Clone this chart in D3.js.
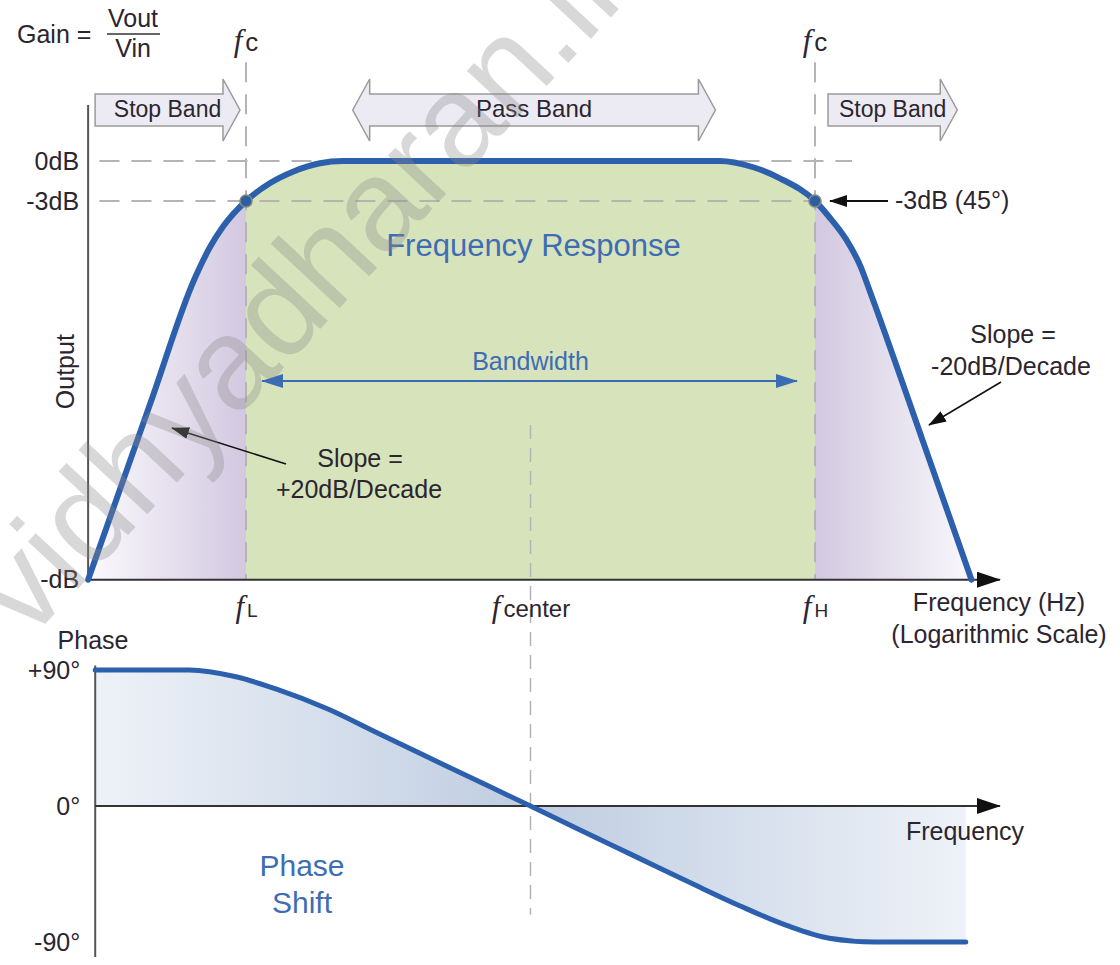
<!DOCTYPE html>
<html>
    <head>
        <title>Band Pass Filter Response</title>
        <meta charset="utf-8">
        <style>
            html, body {
                margin: 0px;
                padding: 0px;
                background-color: #ffffff;
            }

            #main svg {
                display: block;
                font-family: "Liberation Sans", Arial, sans-serif;
            }

            .lbl {
                fill: #2b2530;
                font-size: 25px;
            }

            .blue {
                fill: #3e6db4;
            }

            .fsym {
                font-family: "Liberation Serif", serif;
                font-style: italic;
                font-size: 31px;
            }

            .axis text {
                fill: #2b2530;
                font-size: 25px;
                font-family: "Liberation Sans", Arial, sans-serif;
            }

            .axis .domain {
                stroke: none;
            }

            .guide {
                fill: none;
                stroke: #b4b4b4;
                stroke-width: 2;
                stroke-dasharray: 20, 12;
            }
        </style>
        <script src="https://cdn.jsdelivr.net/npm/d3@7"></script>
    </head>
    <body>
        <div id="main">
        </div>

        <script>
            // frequency axis is in decades, fL = 1 and fH = 5
            var bandLow = 1;
            var bandCenter = 3;
            var bandHigh = 5;
            var freqStart = -0.11;
            var freqEnd = 6.3;

            var magFreq = [-0.11, 0.33, 0.64, 0.75, 0.84, 1.0, 1.17, 1.33, 1.52, 1.68,
                           4.33, 4.56, 4.75, 5.0, 5.1, 5.22, 5.32, 5.39, 5.75, 6.1];
            var magDb   = [-31.4, -18.1, -8.8, -6.4, -4.9, -3.0, -1.65, -0.8, -0.17, 0,
                           0, -0.45, -1.28, -3.0, -4.2, -5.9, -7.9, -9.9, -20.75, -31.4];
            var magFloor = -31.4;
            var magTop = 4.2;

            var phaseStart = -0.06;
            var phaseFreq = [-0.06, 0.6, 0.93, 1.21, 1.58, 1.91, 2.32, 2.72, 3.0,
                             3.33, 3.74, 4.15, 4.47, 4.8, 5.1, 5.42, 6.06];
            var phaseDeg  = [90, 90, 85.5, 77.5, 64, 49, 30.5, 12.5, 0,
                             -15, -33.5, -52, -66, -79, -87.5, -90, -90];

            var magTicks = [0, -3, magFloor];
            var magTickLabels = ["0dB", "-3dB", "-dB"];
            var phaseTicks = [90, 0, -90];
            var phaseTickLabels = ["+90\u00b0", "0\u00b0", "-90\u00b0"];
            var freqMarks = [bandLow, bandCenter, bandHigh];
            var freqMarkSubs = ["L", "center", "H"];

            var width = 1120;
            var height = 965;

            var x = d3.scaleLinear().domain([bandLow, bandHigh]).range([246, 815]);
            var yMag = d3.scaleLinear().domain([0, -3]).range([161, 201]);
            var yPh = d3.scaleLinear().domain([90, -90]).range([670, 942]);

            function addMarker(defs, id, color, w, h) {
                defs.append("marker")
                    .attr("id", id)
                    .attr("viewBox", "0 0 " + w + " " + h)
                    .attr("markerUnits", "userSpaceOnUse")
                    .attr("markerWidth", w)
                    .attr("markerHeight", h)
                    .attr("refX", w - 1)
                    .attr("refY", h / 2)
                    .attr("orient", "auto-start-reverse")
                  .append("path")
                    .attr("d", "M0,0L" + w + "," + (h / 2) + "L0," + h + "Z")
                    .attr("fill", color);
            }

            function addGradient(defs, id, x1, x2, stops) {
                var g = defs.append("linearGradient")
                    .attr("id", id)
                    .attr("gradientUnits", "userSpaceOnUse")
                    .attr("x1", x1).attr("x2", x2)
                    .attr("y1", 0).attr("y2", 0);
                stops.forEach(function(s) {
                    g.append("stop").attr("offset", s[0]).attr("stop-color", s[1]);
                });
            }

            function fLabel(text, sub, subSize) {
                text.append("tspan").attr("class", "fsym").text("f");
                text.append("tspan").attr("dx", 3).style("font-size", subSize + "px").text(sub);
            }

            // block arrow used for the stop band / pass band markers
            function bandArrow(x0, x1, both) {
                var top = 94, bot = 126, htop = 79, hbot = 141, mid = 110, head = 17;
                var p = d3.path();
                if(both) {
                    p.moveTo(x0, mid);
                    p.lineTo(x0 + head, htop);
                    p.lineTo(x0 + head, top);
                } else {
                    p.moveTo(x0, top);
                }
                p.lineTo(x1 - head, top);
                p.lineTo(x1 - head, htop);
                p.lineTo(x1, mid);
                p.lineTo(x1 - head, hbot);
                p.lineTo(x1 - head, bot);
                if(both) {
                    p.lineTo(x0 + head, bot);
                    p.lineTo(x0 + head, hbot);
                } else {
                    p.lineTo(x0, bot);
                }
                p.closePath();
                return p.toString();
            }

            function main() {
                var svg = d3.select("#main")
                            .append("svg")
                            .attr("width", width)
                            .attr("height", height);
                var defs = svg.append("defs");

                addMarker(defs, "axisHead", "#111", 24, 16);
                addMarker(defs, "blueHead", "#3a6cb4", 22, 14);
                addMarker(defs, "blackHead", "#111", 18, 12);

                var mx0 = x(freqStart), mx1 = x(magFreq[magFreq.length - 1]);
                function off(v) { return (x(v) - mx0) / (mx1 - mx0); }
                addGradient(defs, "magFill", mx0, mx1, [
                    [0, "#fbfafd"], [off(bandLow), "#d2c8e0"], [off(bandLow), "#d7e3bb"],
                    [off(bandHigh), "#d7e3bb"], [off(bandHigh), "#d2c8e0"], [1, "#f9f8fc"]
                ]);
                addGradient(defs, "phaseFill", x(phaseStart), x(phaseFreq[phaseFreq.length - 1]), [
                    [0, "#eef2f8"], [0.5, "#bfcde1"], [1, "#eef2f8"]
                ]);

                var magData = magFreq.map(function(f, i) { return {f: f, v: magDb[i]}; });
                var phaseData = phaseFreq.map(function(f, i) { return {f: f, v: phaseDeg[i]}; });

                // ---- magnitude plot ----
                svg.append("path")
                    .datum(magData)
                    .attr("fill", "url(#magFill)")
                    .attr("d", d3.area()
                        .curve(d3.curveMonotoneX)
                        .x(function(d) { return x(d.f); })
                        .y0(yMag(magFloor))
                        .y1(function(d) { return yMag(d.v); }));

                svg.append("line").attr("class", "guide")
                    .attr("x1", x(freqStart + 0.08)).attr("x2", x(5.26))
                    .attr("y1", yMag(0)).attr("y2", yMag(0));
                svg.append("line").attr("class", "guide")
                    .attr("x1", x(freqStart + 0.08)).attr("x2", x(bandHigh))
                    .attr("y1", yMag(-3)).attr("y2", yMag(-3));
                [bandLow, bandHigh].forEach(function(f) {
                    svg.append("line").attr("class", "guide")
                        .attr("x1", x(f)).attr("x2", x(f))
                        .attr("y1", yMag(7.4)).attr("y2", yMag(magFloor));
                });
                svg.append("line").attr("class", "guide")
                    .style("stroke-dasharray", "14, 9")
                    .style("stroke-width", 1.5)
                    .attr("x1", x(bandCenter)).attr("x2", x(bandCenter))
                    .attr("y1", yMag(-19.8)).attr("y2", yPh(-72));

                // axes
                svg.append("line")
                    .attr("x1", x(freqStart)).attr("x2", x(freqStart))
                    .attr("y1", yMag(magTop)).attr("y2", yMag(magFloor))
                    .attr("stroke", "#555").attr("stroke-width", 2);
                svg.append("line")
                    .attr("x1", x(freqStart)).attr("x2", x(freqEnd))
                    .attr("y1", yMag(magFloor)).attr("y2", yMag(magFloor))
                    .attr("stroke", "#333").attr("stroke-width", 2)
                    .attr("marker-end", "url(#axisHead)");

                svg.append("g")
                    .attr("class", "axis")
                    .attr("transform", "translate(" + x(freqStart) + ",0)")
                    .call(d3.axisLeft(yMag)
                        .tickValues(magTicks)
                        .tickSize(0)
                        .tickPadding(9)
                        .tickFormat(function(d, i) { return magTickLabels[i]; }));

                var fAxis = svg.append("g")
                    .attr("class", "axis")
                    .attr("transform", "translate(0," + yMag(magFloor) + ")")
                    .call(d3.axisBottom(x)
                        .tickValues(freqMarks)
                        .tickSize(0)
                        .tickPadding(14));
                fAxis.selectAll(".tick text").each(function(d, i) {
                    var t = d3.select(this).text("").attr("dy", "0.95em");
                    fLabel(t, freqMarkSubs[i], i == 1 ? 24 : 19);
                });

                // fc labels on top of the cutoff guides
                svg.selectAll(".fc")
                    .data([bandLow, bandHigh])
                    .enter().append("text")
                    .attr("class", "lbl fc")
                    .attr("x", function(d) { return x(d); })
                    .attr("y", 51)
                    .attr("text-anchor", "middle")
                    .each(function() { fLabel(d3.select(this), "c", 26); });

                svg.append("path")
                    .datum(magData)
                    .attr("fill", "none")
                    .attr("stroke", "#2d60ac")
                    .attr("stroke-width", 6)
                    .attr("stroke-linecap", "round")
                    .attr("stroke-linejoin", "round")
                    .attr("d", d3.line()
                        .curve(d3.curveMonotoneX)
                        .x(function(d) { return x(d.f); })
                        .y(function(d) { return yMag(d.v); }));

                svg.selectAll(".cut")
                    .data([bandLow, bandHigh])
                    .enter().append("circle")
                    .attr("cx", function(d) { return x(d); })
                    .attr("cy", yMag(-3))
                    .attr("r", 6)
                    .attr("fill", "#2d5f9e")
                    .attr("stroke", "#7d8a86")
                    .attr("stroke-width", 1.5);

                // band arrows
                var bands = [
                    {x0: x(freqStart) + 7, x1: x(bandLow) - 6, both: false, label: "Stop Band"},
                    {x0: x(1.75), x1: x(4.3), both: true, label: "Pass Band"},
                    {x0: x(bandHigh) + 13, x1: x(6.0), both: false, label: "Stop Band"}
                ];
                bands.forEach(function(b) {
                    svg.append("path")
                        .attr("d", bandArrow(b.x0, b.x1, b.both))
                        .attr("fill", "#ecebf3")
                        .attr("stroke", "#9a9a9a")
                        .attr("stroke-width", 1.5);
                    svg.append("text")
                        .attr("class", "lbl")
                        .style("font-size", b.both ? "24px" : "23px")
                        .attr("x", (b.x0 + b.x1) / 2)
                        .attr("y", 117)
                        .attr("text-anchor", "middle")
                        .text(b.label);
                });

                // gain formula
                svg.append("text").attr("class", "lbl").attr("x", 17).attr("y", 43).text("Gain =");
                svg.append("text").attr("class", "lbl").attr("x", 133).attr("y", 27)
                    .attr("text-anchor", "middle").text("Vout");
                svg.append("line").attr("x1", 107).attr("x2", 160).attr("y1", 34).attr("y2", 34)
                    .attr("stroke", "#333").attr("stroke-width", 1.5);
                svg.append("text").attr("class", "lbl").attr("x", 133).attr("y", 57)
                    .attr("text-anchor", "middle").text("Vin");

                svg.append("text")
                    .attr("class", "lbl")
                    .attr("transform", "translate(74," + yMag(-15.8) + ") rotate(-90)")
                    .attr("text-anchor", "middle")
                    .text("Output");

                svg.append("text")
                    .attr("class", "lbl blue")
                    .style("font-size", "31px")
                    .attr("x", x(bandCenter) + 3)
                    .attr("y", 256)
                    .attr("text-anchor", "middle")
                    .text("Frequency Response");

                // bandwidth
                svg.append("text")
                    .attr("class", "lbl blue")
                    .attr("x", x(bandCenter))
                    .attr("y", 370)
                    .attr("text-anchor", "middle")
                    .text("Bandwidth");
                svg.append("line")
                    .attr("x1", x(bandLow) + 16).attr("x2", x(bandHigh) - 18)
                    .attr("y1", 381).attr("y2", 381)
                    .attr("stroke", "#3a6cb4").attr("stroke-width", 2)
                    .attr("marker-start", "url(#blueHead)")
                    .attr("marker-end", "url(#blueHead)");

                // -3dB note
                svg.append("line")
                    .attr("x1", x(bandHigh) + 73).attr("x2", x(bandHigh) + 15)
                    .attr("y1", yMag(-3)).attr("y2", yMag(-3))
                    .attr("stroke", "#111").attr("stroke-width", 2)
                    .attr("marker-end", "url(#blackHead)");
                svg.append("text")
                    .attr("class", "lbl")
                    .attr("x", x(bandHigh) + 80)
                    .attr("y", yMag(-3) + 8)
                    .text("-3dB (45\u00b0)");

                // slope notes
                svg.append("line")
                    .attr("x1", 286).attr("x2", 172)
                    .attr("y1", 464).attr("y2", 428)
                    .attr("stroke", "#111").attr("stroke-width", 1.5)
                    .attr("marker-end", "url(#blackHead)");
                svg.append("text").attr("class", "lbl").attr("x", 360).attr("y", 467)
                    .attr("text-anchor", "middle").text("Slope =");
                svg.append("text").attr("class", "lbl").attr("x", 359).attr("y", 498)
                    .attr("text-anchor", "middle").text("+20dB/Decade");

                svg.append("line")
                    .attr("x1", 1001).attr("x2", 929)
                    .attr("y1", 382).attr("y2", 425)
                    .attr("stroke", "#111").attr("stroke-width", 1.5)
                    .attr("marker-end", "url(#blackHead)");
                svg.append("text").attr("class", "lbl").attr("x", 1013).attr("y", 343)
                    .attr("text-anchor", "middle").text("Slope =");
                svg.append("text").attr("class", "lbl").attr("x", 1011).attr("y", 375)
                    .attr("text-anchor", "middle").text("-20dB/Decade");

                svg.append("text").attr("class", "lbl").attr("x", 999).attr("y", 611)
                    .attr("text-anchor", "middle").text("Frequency (Hz)");
                svg.append("text").attr("class", "lbl").attr("x", 999).attr("y", 643)
                    .attr("text-anchor", "middle").text("(Logarithmic Scale)");

                // ---- phase plot ----
                svg.append("path")
                    .datum(phaseData)
                    .attr("fill", "url(#phaseFill)")
                    .attr("d", d3.area()
                        .curve(d3.curveMonotoneX)
                        .x(function(d) { return x(d.f); })
                        .y0(yPh(0))
                        .y1(function(d) { return yPh(d.v); }));

                svg.append("line")
                    .attr("x1", x(phaseStart)).attr("x2", x(phaseStart))
                    .attr("y1", yPh(93)).attr("y2", yPh(-100))
                    .attr("stroke", "#555").attr("stroke-width", 2);
                svg.append("line")
                    .attr("x1", x(phaseStart)).attr("x2", x(freqEnd))
                    .attr("y1", yPh(0)).attr("y2", yPh(0))
                    .attr("stroke", "#333").attr("stroke-width", 2)
                    .attr("marker-end", "url(#axisHead)");

                svg.append("g")
                    .attr("class", "axis")
                    .attr("transform", "translate(" + (x(phaseStart) - 7) + ",0)")
                    .call(d3.axisLeft(yPh)
                        .tickValues(phaseTicks)
                        .tickSize(0)
                        .tickPadding(8)
                        .tickFormat(function(d, i) { return phaseTickLabels[i]; }));

                svg.append("path")
                    .datum(phaseData)
                    .attr("fill", "none")
                    .attr("stroke", "#2d60ac")
                    .attr("stroke-width", 5)
                    .attr("stroke-linecap", "round")
                    .attr("d", d3.line()
                        .curve(d3.curveMonotoneX)
                        .x(function(d) { return x(d.f); })
                        .y(function(d) { return yPh(d.v); }));

                svg.append("text").attr("class", "lbl").attr("x", 93).attr("y", 649)
                    .attr("text-anchor", "middle").text("Phase");
                svg.append("text").attr("class", "lbl").attr("x", 965).attr("y", 840)
                    .attr("text-anchor", "middle").text("Frequency");
                svg.append("text").attr("class", "lbl blue").style("font-size", "30px")
                    .attr("x", 302).attr("y", 876).attr("text-anchor", "middle").text("Phase");
                svg.append("text").attr("class", "lbl blue").style("font-size", "30px")
                    .attr("x", 302).attr("y", 913).attr("text-anchor", "middle").text("Shift");

                // watermark
                svg.append("text")
                    .attr("transform", "translate(654,-29) rotate(-47)")
                    .attr("text-anchor", "end")
                    .style("font-size", "130px")
                    .attr("fill", "#8a8a8a")
                    .attr("opacity", 0.33)
                    .text("vidhyadharan.in");
            }

            main();
        </script>
    </body>
</html>
